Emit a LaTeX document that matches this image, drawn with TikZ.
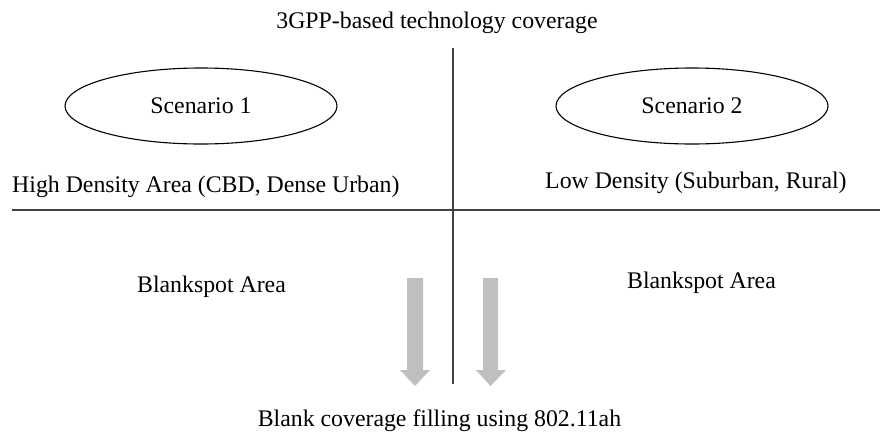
\documentclass[tikz,border=0pt]{standalone}
\usepackage{fontspec}
\setmainfont{Liberation Serif}
\usetikzlibrary{shapes.geometric}
\begin{document}
\begin{tikzpicture}[x=1pt,y=-1pt,
  lbl/.style={font=\fontsize{23.8}{28}\selectfont, inner sep=0pt, anchor=base},
  scen/.style={ellipse, draw=black, line width=1.1pt, minimum width=272pt, minimum height=76pt, inner sep=0pt, font=\fontsize{23.8}{28}\selectfont},
  divider/.style={draw=black!75, line width=2pt},
  fatarrow/.style={fill=black!25, draw=none}]
\useasboundingbox (0,0) rectangle (880,432);
% title
\node[lbl] (title) at (437,28) {3GPP-based technology coverage};
% dividers
\coordinate (vtop) at (453,48);
\coordinate (vbot) at (453,384);
\coordinate (hl) at (12,210);
\coordinate (hr) at (880,210);
\draw[divider] (vtop) -- (vbot);
\draw[divider] (hl) -- (hr);
% scenarios
\node[scen] (s1) at (201,106) {Scenario 1};
\node[scen] (s2) at (692,106) {Scenario 2};
% area labels
\node[lbl, anchor=base west] (hd) at (12,192) {High Density Area (CBD, Dense Urban)};
\node[lbl, anchor=base west] (ld) at (545,188) {Low Density (Suburban, Rural)};
\node[lbl] (b1) at (211.5,292) {Blankspot Area};
\node[lbl] (b2) at (701.5,288) {Blankspot Area};
% arrows
\fill[fatarrow] (407,278) -- (423,278) -- (423,370) -- (430,370) -- (415,386) -- (400,370) -- (407,370) -- cycle;
\fill[fatarrow] (483,278) -- (498,278) -- (498,370) -- (506,370) -- (490.5,386) -- (476,370) -- (483,370) -- cycle;
% bottom label
\node[lbl] (bottom) at (439.5,426) {Blank coverage filling using 802.11ah};
\end{tikzpicture}
\end{document}
